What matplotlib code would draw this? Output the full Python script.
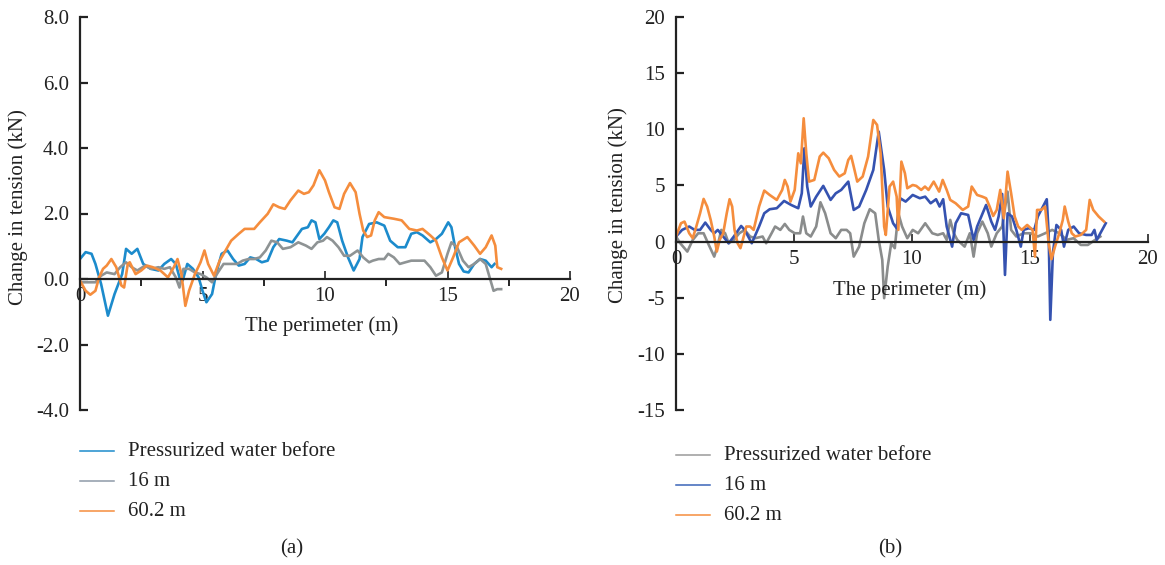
import numpy as np
import matplotlib.pyplot as plt
from matplotlib.ticker import MultipleLocator

# ---- data ----
# (a) left panel
a_blue_x = [0, 0.23, 0.47, 0.63, 0.86, 1.14, 1.41, 1.72, 1.88, 2.11, 2.34, 2.58, 2.89, 3.2, 3.44,
            3.72, 3.91, 4.06, 4.19, 4.38, 4.61, 4.84, 5.0, 5.16, 5.39, 5.55, 5.78, 6.02, 6.25, 6.48,
            6.72, 6.95, 7.19, 7.42, 7.66, 7.89, 8.13, 8.44, 8.67, 9.06, 9.3, 9.45, 9.61, 9.77, 9.97,
            10.16, 10.34, 10.5, 10.7, 10.94, 11.17, 11.41, 11.53, 11.8, 12.11, 12.42, 12.66, 12.97,
            13.28, 13.52, 13.75, 13.98, 14.3, 14.53, 14.77, 15.03, 15.16, 15.31, 15.47, 15.66, 15.86,
            16.09, 16.33, 16.56, 16.8, 16.92]
a_blue_y = [0.61, 0.82, 0.77, 0.46, -0.15, -1.12, -0.46, 0.15, 0.92, 0.77, 0.92, 0.46, 0.31, 0.26, 0.46,
            0.61, 0.46, 0.05, -0.05, 0.46, 0.31, 0.05, -0.36, -0.71, -0.46, 0.15, 0.77, 0.87, 0.61, 0.41,
            0.46, 0.66, 0.61, 0.51, 0.56, 0.97, 1.22, 1.17, 1.12, 1.53, 1.58, 1.79, 1.73, 1.22, 1.38,
            1.58, 1.79, 1.73, 1.17, 0.66, 0.26, 0.61, 1.28, 1.68, 1.73, 1.63, 1.17, 0.97,
            0.97, 1.38, 1.43, 1.33, 1.12, 1.22, 1.38, 1.73, 1.58, 0.97, 0.46, 0.23, 0.2,
            0.46, 0.61, 0.56, 0.36, 0.46]

a_gray_x = [0, 0.63, 0.86, 1.09, 1.41, 1.64, 1.88, 2.11, 2.34, 2.66, 2.89, 3.2, 3.44, 3.67, 3.91,
            4.06, 4.22, 4.45, 4.69, 4.92, 5.16, 5.39, 5.63, 5.86, 6.09, 6.41, 6.64, 6.88, 7.11, 7.34,
            7.58, 7.81, 8.05, 8.28, 8.59, 8.91, 9.22, 9.45, 9.69, 9.92, 10.08, 10.31, 10.55, 10.78,
            11.02, 11.33, 11.56, 11.8, 11.95, 12.19, 12.42, 12.58, 12.81, 13.05, 13.28, 13.52, 13.75,
            14.06, 14.3, 14.53, 14.77, 15.0, 15.16, 15.39, 15.63, 15.86, 16.09, 16.33, 16.56, 16.72,
            16.88, 17.03, 17.19]
a_gray_y = [-0.1, -0.1, 0.1, 0.2, 0.15, 0.36, 0.51, 0.36, 0.26, 0.41, 0.31, 0.36, 0.31, 0.36, 0.05,
            -0.26, 0.31, 0.31, 0.2, 0.15, 0.05, -0.1, 0.2, 0.46, 0.46, 0.46, 0.56, 0.61, 0.61, 0.66,
            0.87, 1.17, 1.12, 0.92, 0.97, 1.12, 1.02, 0.92, 1.12, 1.17, 1.28, 1.17, 0.97, 0.71,
            0.71, 0.87, 0.66, 0.51, 0.56, 0.61, 0.61, 0.77, 0.66, 0.46, 0.51, 0.56, 0.56,
            0.56, 0.36, 0.1, 0.2, 0.77, 1.12, 0.97, 0.56, 0.36, 0.46, 0.61, 0.46, 0.05,
            -0.36, -0.31, -0.31]

a_orange_x = [0, 0.23, 0.42, 0.63, 0.78, 0.94, 1.09, 1.28, 1.48, 1.69, 1.8, 1.95, 2.03, 2.27, 2.5,
              2.73, 2.97, 3.28, 3.59, 3.83, 3.98, 4.14, 4.3, 4.45, 4.69, 4.92, 5.08, 5.23, 5.47, 5.7,
              5.94, 6.17, 6.48, 6.72, 7.11, 7.34, 7.66, 7.89, 8.13, 8.36, 8.59, 8.91, 9.14, 9.34, 9.53,
              9.77, 10.0, 10.16, 10.39, 10.59, 10.78, 11.02, 11.25, 11.41, 11.56, 11.72, 11.88, 12.03,
              12.19, 12.42, 12.81, 13.13, 13.44, 13.75, 13.98, 14.3, 14.53, 14.77, 15.0, 15.23, 15.47,
              15.81, 16.09, 16.33, 16.56, 16.8, 16.95, 17.03, 17.19]
a_orange_y = [-0.05, -0.36, -0.48, -0.36, 0.05, 0.31, 0.41, 0.61, 0.36, -0.2, -0.26, 0.46, 0.51, 0.15, 0.26,
              0.41, 0.36, 0.26, 0.05, 0.36, 0.61, 0.15, -0.82, -0.36, 0.15, 0.51, 0.87, 0.46, 0.1, 0.56,
              0.87, 1.17, 1.38, 1.53, 1.53, 1.73, 1.99, 2.28, 2.19, 2.14, 2.4, 2.7, 2.6, 2.65, 2.86,
              3.32, 3.01, 2.65, 2.19, 2.14, 2.6, 2.93, 2.65, 1.99, 1.48, 1.28, 1.33, 1.79,
              2.04, 1.89, 1.84, 1.79, 1.53, 1.48, 1.53, 1.33, 1.17, 0.66, 0.26, 0.66, 1.12,
              1.28, 1.02, 0.77, 0.97, 1.33, 1.02, 0.36, 0.31]

# (b) right panel
b_gray_x = [0, 0.18, 0.48, 0.71, 0.94, 1.17, 1.39, 1.62, 1.77, 1.92, 2.08, 2.23, 2.45, 2.68, 2.91,
            3.14, 3.36, 3.67, 3.82, 4.05, 4.2, 4.42, 4.61, 4.8, 5.03, 5.26, 5.38, 5.52, 5.71, 5.94,
            6.12, 6.32, 6.55, 6.77, 7.0, 7.23, 7.38, 7.53, 7.76, 7.98, 8.21, 8.44, 8.59, 8.74, 8.82,
            8.97, 9.12, 9.27, 9.42, 9.58, 9.8, 10.03, 10.26, 10.56, 10.86, 11.09, 11.32, 11.47, 11.62,
            11.77, 11.92, 12.23, 12.45, 12.61, 12.76, 12.98, 13.21, 13.36, 13.59, 13.82, 14.05, 14.2,
            14.42, 14.73, 15.03, 15.33, 15.64, 15.94, 16.24, 16.55, 16.85, 17.15, 17.45, 17.76, 17.98]
b_gray_y = [0.45, -0.15, -0.89, 0.15, 0.74, 0.74, -0.3, -1.34, -0.3, 1.04, 0.74, -0.15, 0.15, 0.74, 1.04,
            0.45, 0.3, 0.45, -0.15, 0.74, 1.34, 1.04, 1.57, 1.04, 0.74, 0.74, 2.23, 0.74, 0.45, 1.34,
            3.5, 2.52, 0.74, 0.3, 1.04, 1.04, 0.74, -1.34, -0.45, 1.63, 2.88, 2.52, 0.15, -1.63, -5.04,
            -2.23, -0.15, -0.59, 2.52, 1.34, 0.3, 1.04, 0.74, 1.63, 0.74, 0.59, 0.74, 0.15, 1.93,
            0.74, 0.15, -0.45, 0.74, -1.34, 0.74, 1.78, 0.74, -0.45, 0.74, 1.34, 4.45, 1.04,
            0.45, 0.74, 0.74, 0.45, 0.74, 1.04, 0.74, 0.15, 0.3, -0.3, -0.3, 0.15, 0.45]

b_blue_x = [0, 0.26, 0.56, 0.79, 1.02, 1.24, 1.47, 1.62, 1.77, 2.0, 2.23, 2.45, 2.76, 2.91, 3.21,
            3.52, 3.74, 3.97, 4.27, 4.58, 4.88, 5.18, 5.33, 5.44, 5.56, 5.71, 5.94, 6.24, 6.55, 6.77,
            7.0, 7.3, 7.53, 7.76, 8.06, 8.36, 8.59, 8.82, 8.97, 9.2, 9.35, 9.5, 9.73, 10.03, 10.33,
            10.56, 10.79, 11.02, 11.17, 11.32, 11.47, 11.7, 11.85, 12.08, 12.38, 12.61, 12.76, 13.14,
            13.36, 13.52, 13.67, 13.82, 13.94, 14.05, 14.24, 14.42, 14.61, 14.73, 14.95, 15.18, 15.33,
            15.71, 15.79, 15.86, 15.97, 16.12, 16.32, 16.44, 16.62, 16.85, 17.08, 17.38, 17.61, 17.73,
            17.83, 17.98, 18.21]
b_blue_y = [0.45, 1.04, 1.34, 1.04, 1.04, 1.69, 1.04, 0.74, 1.04, 0.45, -0.15, 0.45, 1.39, 1.04, -0.15,
            1.34, 2.52, 2.88, 2.97, 3.62, 3.26, 2.97, 4.3, 8.31, 4.9, 3.12, 4.0, 4.96, 3.71, 4.3,
            4.6, 5.34, 2.82, 3.12, 4.6, 6.38, 9.79, 6.38, 3.12, 1.63, 1.19, 3.86, 3.56, 4.15, 3.86,
            4.0, 3.41, 3.77, 3.12, 3.77, 1.34, -0.45, 1.63, 2.52, 2.37, 0.15, 1.34, 3.26,
            1.78, 1.04, 2.23, 4.24, -2.97, 2.52, 2.23, 1.04, -0.45, 1.04, 1.19, 1.04, 2.23,
            3.77, 0.74, -6.97, -1.04, 1.48, 1.04, -0.45, 1.04, 1.34, 0.74, 0.59, 0.59, 1.04,
            0.15, 0.74, 1.63]

b_orange_x = [0, 0.21, 0.36, 0.56, 0.71, 0.86, 1.02, 1.17, 1.32, 1.47, 1.62, 1.73, 1.85, 2.0, 2.15,
              2.27, 2.38, 2.48, 2.61, 2.73, 2.83, 2.98, 3.14, 3.29, 3.52, 3.74, 3.97, 4.27, 4.5, 4.61,
              4.73, 4.85, 5.03, 5.18, 5.29, 5.41, 5.52, 5.64, 5.86, 6.09, 6.24, 6.47, 6.7, 6.92, 7.15,
              7.3, 7.42, 7.53, 7.68, 7.91, 8.14, 8.36, 8.52, 8.67, 8.82, 8.89, 9.05, 9.2, 9.35, 9.42,
              9.55, 9.7, 9.8, 10.03, 10.18, 10.39, 10.55, 10.7, 10.92, 11.15, 11.3, 11.47, 11.62, 11.85,
              12.15, 12.38, 12.53, 12.76, 12.98, 13.14, 13.29, 13.44, 13.59, 13.74, 13.89, 14.05, 14.2,
              14.35, 14.5, 14.65, 14.88, 15.11, 15.21, 15.3, 15.48, 15.64, 15.79, 15.91, 16.06, 16.24,
              16.39, 16.47, 16.62, 16.77, 16.92, 17.15, 17.38, 17.53, 17.68, 17.91, 18.14]
b_orange_y = [0.45, 1.63, 1.78, 0.74, 0.3, 1.34, 2.52, 3.8, 3.12, 1.93, 0.45, -0.89, 0.15, 0.74, 2.52,
              3.77, 3.12, 1.04, -0.15, -0.59, 0.15, 1.34, 1.34, 1.04, 3.12, 4.54, 4.15, 3.71, 4.6, 5.49,
              4.9, 3.56, 4.6, 7.86, 6.97, 10.98, 7.86, 5.34, 5.49, 7.57, 7.92, 7.42, 6.38, 5.79, 6.08,
              7.27, 7.63, 6.68, 5.34, 5.79, 7.57, 10.83, 10.39, 7.86, 1.34, 0.59, 4.9, 5.34, 4.0, 1.04,
              7.12, 6.08, 4.75, 5.04, 4.96, 4.6, 4.9, 4.6, 5.34, 4.45, 5.49, 4.6, 3.71, 3.41,
              2.82, 3.12, 4.9, 4.15, 4.0, 3.86, 3.12, 2.28, 2.82, 4.6, 2.08, 6.23, 4.3,
              2.23, 1.34, 1.04, 1.48, 1.04, -1.34, 2.82, 2.82, 3.12, -0.15, -1.57, -0.45, 0.74,
              1.93, 3.12, 1.78, 0.74, 0.45, 0.59, 1.04, 3.71, 2.82, 2.23, 1.78]

labels = ['Pressurized water before', '16 m', '60.2 m']

plt.rcParams['font.family'] = ['Liberation Serif', 'DejaVu Serif']
plt.rcParams['font.size'] = 15
plt.rcParams['axes.unicode_minus'] = False

W, H = 1165, 565
fig = plt.figure(figsize=(W / 100, H / 100), dpi=100)


def px(x, y):
    return x / W, 1 - y / H


def make_axes(x0, x1, y_top, y_bot):
    l, t = px(x0, y_top)
    r, b = px(x1, y_bot)
    ax = fig.add_axes([l, b, r - l, t - b])
    for s in ['top', 'right']:
        ax.spines[s].set_visible(False)
    ax.spines['bottom'].set_position(('data', 0))
    for s in ['left', 'bottom']:
        ax.spines[s].set_linewidth(1.6)
        ax.spines[s].set_color('#222222')
    ax.tick_params(axis='y', direction='in', length=6, width=1.6, pad=8, colors='#222222', labelcolor='#222222')
    ax.tick_params(axis='x', direction='in', length=6, width=1.2, pad=6, colors='#222222', labelcolor='#222222')
    ax.patch.set_alpha(0)
    return ax


lw = 1.9

# ---- (a) ----
ax1 = make_axes(80, 570, 17, 410)
ax1.plot(a_blue_x, a_blue_y, color='#1c8bcc', lw=lw, label=labels[0], solid_joinstyle='round')
ax1.plot(a_gray_x, a_gray_y, color='#8e9394', lw=lw, label=labels[1], solid_joinstyle='round')
ax1.plot(a_orange_x, a_orange_y, color='#f58d3d', lw=lw, label=labels[2], solid_joinstyle='round')
ax1.set_xlim(0, 20)
ax1.set_ylim(-4, 8)
ax1.set_xticks([0, 5, 10, 15, 20])
ax1.set_yticks([-4, -2, 0, 2, 4, 6, 8])
ax1.set_yticklabels(['%.1f' % v for v in [-4, -2, 0, 2, 4, 6, 8]])
ax1.xaxis.set_minor_locator(MultipleLocator(2.5))
ax1.tick_params(axis='x', which='minor', direction='out', length=5, width=1.2)

# ---- (b) ----
ax2 = make_axes(676, 1148, 17, 410)
ax2.plot(b_gray_x, b_gray_y, color='#8a8c8c', lw=lw, label=labels[0], solid_joinstyle='round')
ax2.plot(b_blue_x, b_blue_y, color='#3552b0', lw=lw, label=labels[1], solid_joinstyle='round')
ax2.plot(b_orange_x, b_orange_y, color='#f58d3d', lw=lw, label=labels[2], solid_joinstyle='round')
ax2.set_xlim(0, 20)
ax2.set_ylim(-15, 20)
ax2.set_xticks([0, 5, 10, 15, 20])
ax2.set_yticks([-15, -10, -5, 0, 5, 10, 15, 20])

# axis labels
tc = '#222222'
fig.text(*px(18, 207), 'Change in tension (kN)', rotation=90, ha='center', va='center', color=tc)
fig.text(*px(322, 326), 'The perimeter (m)', ha='center', va='center', color=tc)
fig.text(*px(618, 205), 'Change in tension (kN)', rotation=90, ha='center', va='center', color=tc)
fig.text(*px(910, 290), 'The perimeter (m)', ha='center', va='center', color=tc)

# legends
for ax, x0, y0, cols in [(ax1, 80, 451, ['#1c8bcc', '#8e9aa8', '#f58d3d']),
                         (ax2, 676, 455, ['#9a9a9a', '#3a64b8', '#f58d3d'])]:
    for i, (lab, c) in enumerate(zip(labels, cols)):
        yy = y0 + 30 * i
        fig.add_artist(plt.Line2D([x0 / W, (x0 + 34) / W], [1 - yy / H] * 2, color=c, lw=1.1))
        fig.text(*px(x0 + 48, yy), lab, ha='left', va='center', color=tc)

fig.text(*px(292, 549), '(a)', ha='center', va='center', color=tc)
fig.text(*px(890, 549), '(b)', ha='center', va='center', color=tc)

fig.savefig('out.png', dpi=100)
